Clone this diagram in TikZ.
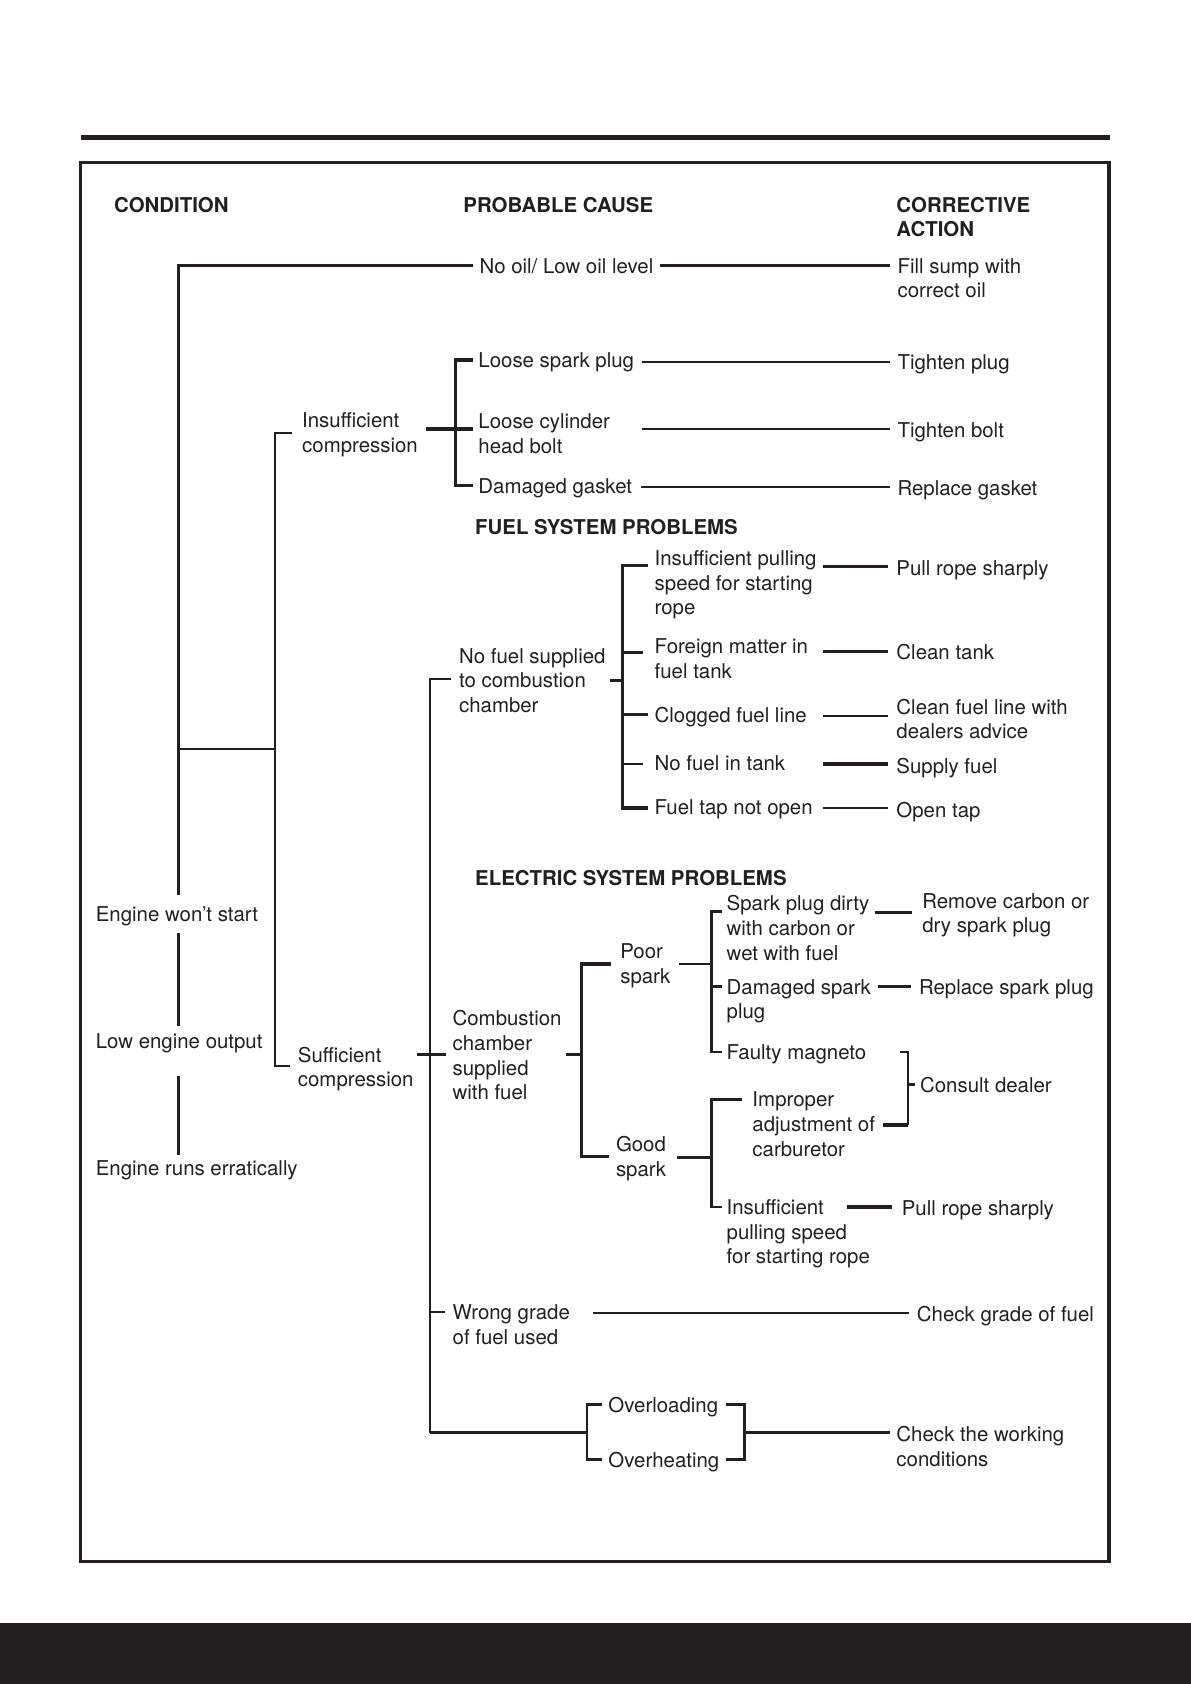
\documentclass[tikz,border=0pt]{standalone}
\usepackage{fontspec}
\setmainfont{TeX Gyre Heros}
\definecolor{ink}{RGB}{35,31,32}
\begin{document}
\begin{tikzpicture}[x=1pt,y=-1pt,
  txt/.style={anchor=north west, inner sep=0pt, align=left, text=ink,
              font=\fontsize{19}{23}\selectfont},
  hd/.style={txt, font=\fontsize{19}{23}\selectfont\bfseries},
  ln/.style={draw=ink, line width=2.3pt},
  thk/.style={draw=ink, line width=3.2pt}]
\useasboundingbox (0,0) rectangle (1108,1567);
% frame
\draw[draw=ink, line width=4pt] (75,128) -- (1033,128);
\draw[draw=ink, line width=3pt] (75,151) rectangle (1032,1453);
\fill[ink] (0,1510) rectangle (1108,1567);

% headers
\node[hd] (hcond) at (106,183) {CONDITION};
\node[hd] (hcause) at (431,183) {PROBABLE CAUSE};
\node[hd] (hact) at (834,183) {CORRECTIVE\\ACTION};
\node[hd] (hfuel) at (442,483) {FUEL SYSTEM PROBLEMS};
\node[hd] (helec) at (442,810) {ELECTRIC SYSTEM PROBLEMS};

% condition column
\node[txt] (ews) at (89,843) {Engine won’t start};
\node[txt] (leo) at (89,962) {Low engine output};
\node[txt] (ere) at (89,1080) {Engine runs erratically};

% cause texts
\node[txt] (noil) at (446,240) {No oil/ Low oil level};
\node[txt] (ins) at (281,384) {Insufficient\\compression};
\node[txt] (lsp) at (445,328) {Loose spark plug};
\node[txt] (lch) at (445,385) {Loose cylinder\\head bolt};
\node[txt] (dg) at (445,445) {Damaged gasket};
\node[txt] (ipr) at (609,512) {Insufficient pulling\\speed for starting\\rope};
\node[txt] (fm) at (609,594) {Foreign matter in\\fuel tank};
\node[txt] (cfl) at (609,658) {Clogged fuel line};
\node[txt] (nft) at (609,703) {No fuel in tank};
\node[txt] (ftap) at (609,744) {Fuel tap not open};
\node[txt] (nfs) at (427,603) {No fuel supplied\\to combustion\\chamber};
\node[txt] (suf) at (277,974) {Sufficient\\compression};
\node[txt] (ccs) at (421,940) {Combustion\\chamber\\supplied\\with fuel};
\node[txt] (ps) at (577,878) {Poor\\spark};
\node[txt] (gs) at (573,1057) {Good\\spark};
\node[txt] (spd) at (676,833) {Spark plug dirty\\with carbon or\\wet with fuel};
\node[txt] (dsp) at (676,911) {Damaged spark\\plug};
\node[txt] (fmag) at (676,972) {Faulty magneto};
\node[txt] (iac) at (700,1016) {Improper\\adjustment of\\carburetor};
\node[txt] (ips) at (676,1116) {Insufficient\\pulling speed\\for starting rope};
\node[txt] (wg) at (421,1214) {Wrong grade\\of fuel used};
\node[txt] (ovl) at (566,1300) {Overloading};
\node[txt] (ovh) at (566,1351) {Overheating};

% action texts
\node[txt] (fill) at (835,240) {Fill sump with\\correct oil};
\node[txt] (tp) at (835,330) {Tighten plug};
\node[txt] (tb) at (835,393) {Tighten bolt};
\node[txt] (rg) at (835,447) {Replace gasket};
\node[txt] (prs1) at (834,521) {Pull rope sharply};
\node[txt] (ct) at (834,599) {Clean tank};
\node[txt] (cflw) at (834,650) {Clean fuel line with\\dealers advice};
\node[txt] (sf) at (834,705) {Supply fuel};
\node[txt] (ot) at (834,746) {Open tap};
\node[txt] (rc) at (858,831) {Remove carbon or\\dry spark plug};
\node[txt] (rsp) at (855,911) {Replace spark plug};
\node[txt] (cd) at (856,1002) {Consult dealer};
\node[txt] (prs2) at (839,1117) {Pull rope sharply};
\node[txt] (cg) at (853,1215) {Check grade of fuel};
\node[txt] (cwc) at (834,1327) {Check the working\\conditions};

% ---- junction coordinates ----
\coordinate (a0) at (440,247);
\coordinate (a1) at (166,247);
\coordinate (a2) at (166,833);
\coordinate (a3) at (166,868);
\coordinate (a4) at (166,955);
\coordinate (a5) at (166,1001);
\coordinate (a6) at (166,1075);
\coordinate (a7) at (166,697);
\coordinate (b0) at (256,697);
\coordinate (b1) at (272,403);
\coordinate (b2) at (256,403);
\coordinate (b3) at (256,992);
\coordinate (b4) at (270,992);
% oil
\coordinate (o1) at (614,247);
\coordinate (o2) at (828,247);
% insufficient compression
\coordinate (i0) at (396,399);
\coordinate (i1) at (440,399);
\coordinate (i2) at (440,335);
\coordinate (i3) at (424,335);
\coordinate (i4) at (424,452);
\coordinate (i5) at (440,452);
\coordinate (l1a) at (597,337); \coordinate (l1b) at (828,337);
\coordinate (l2a) at (597,399); \coordinate (l2b) at (828,399);
\coordinate (l3a) at (596,453); \coordinate (l3b) at (828,453);
% fuel bracket
\coordinate (f0) at (568,633);
\coordinate (f1) at (603,526);
\coordinate (f2) at (579,526);
\coordinate (f3) at (579,752);
\coordinate (f4) at (603,752);
\coordinate (f5) at (579,607); \coordinate (f5e) at (598,607);
\coordinate (f6) at (579,665); \coordinate (f6e) at (603,665);
\coordinate (f7) at (579,711); \coordinate (f7e) at (598,711);
\coordinate (f8) at (579,633);
\coordinate (g1a) at (766,527); \coordinate (g1b) at (826,527);
\coordinate (g2a) at (766,606); \coordinate (g2b) at (826,606);
\coordinate (g3a) at (766,666); \coordinate (g3b) at (826,666);
\coordinate (g4a) at (766,711); \coordinate (g4b) at (826,711);
\coordinate (g5a) at (766,752); \coordinate (g5b) at (826,752);
% main vertical
\coordinate (m0) at (420,632);
\coordinate (m1) at (400,632);
\coordinate (m2) at (400,1333);
\coordinate (m3) at (546,1333);
\coordinate (m4) at (388,981);
\coordinate (m5) at (415,981);
\coordinate (m6) at (400,1221);
\coordinate (m7) at (414,1221);
% combustion chamber
\coordinate (c0) at (527,981);
\coordinate (c1) at (541,981);
\coordinate (c2) at (569,897);
\coordinate (c3) at (541,897);
\coordinate (c4) at (541,1076);
\coordinate (c5) at (567,1076);
% poor spark
\coordinate (p0) at (632,897);
\coordinate (p1) at (662,897);
\coordinate (p2) at (672,848);
\coordinate (p3) at (662,848);
\coordinate (p4) at (662,979);
\coordinate (p5) at (672,979);
\coordinate (p6) at (662,918);
\coordinate (p7) at (672,918);
\coordinate (q1a) at (814,849); \coordinate (q1b) at (849,849);
\coordinate (q2a) at (817,918); \coordinate (q2b) at (848,918);
% consult dealer
\coordinate (k0) at (837,979);
\coordinate (k1) at (845,979);
\coordinate (k2) at (845,1047);
\coordinate (k3) at (822,1047);
\coordinate (k4) at (845,1009);
\coordinate (k5) at (851,1009);
% good spark
\coordinate (s0) at (630,1077);
\coordinate (s1) at (662,1077);
\coordinate (s2) at (690,1023);
\coordinate (s3) at (662,1023);
\coordinate (s4) at (662,1123);
\coordinate (s5) at (672,1123);
\coordinate (s6a) at (788,1123); \coordinate (s6b) at (830,1123);
% wrong grade
\coordinate (w1) at (552,1222); \coordinate (w2) at (846,1222);
% overload
\coordinate (v1) at (560,1307);
\coordinate (v2) at (546,1307);
\coordinate (v3) at (546,1358);
\coordinate (v4) at (560,1358);
\coordinate (v5) at (676,1307);
\coordinate (v6) at (693,1307);
\coordinate (v7) at (693,1358);
\coordinate (v8) at (676,1358);
\coordinate (v9) at (693,1333);
\coordinate (v10) at (828,1333);

% ---- connectors ----
\draw[ln] (a0) -- (a1) -- (a2);
\draw[ln] (a3) -- (a4);
\draw[ln] (a5) -- (a6);
\draw[ln] (a7) -- (b0);
\draw[ln] (b1) -- (b2) -- (b3) -- (b4);
\draw[thk] (o1) -- (o2);
\draw[thk] (i0) -- (i1);
\draw[thk] (i2) -- (i3) -- (i4) -- (i5);
\draw[ln] (l1a) -- (l1b);
\draw[ln] (l2a) -- (l2b);
\draw[ln] (l3a) -- (l3b);

\draw[thk] (f1) -- (f2) -- (f3) -- (f4);
\draw[ln] (f5) -- (f5e);
\draw[ln] (f6) -- (f6e);
\draw[ln] (f7) -- (f7e);
\draw[ln] (f0) -- (f8);
\draw[ln] (g1a) -- (g1b);
\draw[thk] (g2a) -- (g2b);
\draw[ln] (g3a) -- (g3b);
\draw[thk] (g4a) -- (g4b);
\draw[ln] (g5a) -- (g5b);

\draw[ln] (m0) -- (m1) -- (m2);
\draw[thk] (m2) -- (m3);
\draw[thk] (m4) -- (m5);
\draw[ln] (m6) -- (m7);

\draw[thk] (c0) -- (c1);
\draw[thk] (c2) -- (c3) -- (c4) -- (c5);
\draw[ln] (p0) -- (p1);
\draw[ln] (p2) -- (p3) -- (p4) -- (p5);
\draw[ln] (p6) -- (p7);
\draw[thk] (q1a) -- (q1b);
\draw[ln] (q2a) -- (q2b);
\draw[ln] (k0) -- (k1) -- (k2);
\draw[thk] (k2) -- (k3);
\draw[ln] (k4) -- (k5);
\draw[ln] (s0) -- (s1);
\draw[ln] (s2) -- (s3) -- (s4) -- (s5);
\draw[thk] (s6a) -- (s6b);
\draw[ln] (w1) -- (w2);
\draw[ln] (v1) -- (v2) -- (v3) -- (v4);
\draw[thk] (v5) -- (v6) -- (v7) -- (v8);
\draw[thk] (v9) -- (v10);
\end{tikzpicture}
\end{document}
